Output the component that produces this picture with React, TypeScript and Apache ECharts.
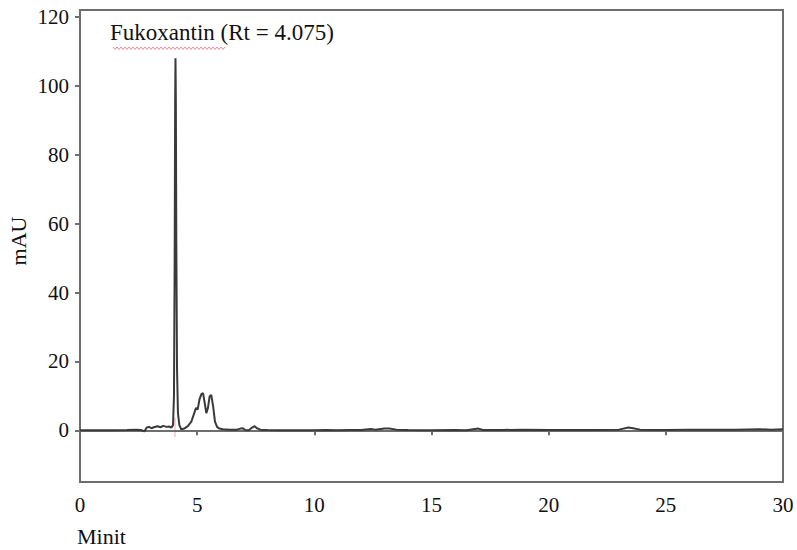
import React, { useEffect, useRef } from "react";
import * as echarts from "echarts";

const timeMin: number[] = [
  0, 0.5, 1.0, 1.5, 2.0, 2.4, 2.6, 2.75, 2.85, 2.95, 3.05, 3.15, 3.3, 3.45, 3.55, 3.7, 3.8, 3.9, 3.97,
  4.01, 4.04, 4.06, 4.075, 4.09, 4.11, 4.14, 4.18, 4.24, 4.32, 4.45, 4.6, 4.75, 4.85, 4.95, 5.02, 5.1,
  5.18, 5.25, 5.32, 5.39, 5.46, 5.53, 5.6, 5.68, 5.76, 5.85, 5.95, 6.1, 6.4, 6.7, 6.85, 6.95, 7.05, 7.2,
  7.35, 7.45, 7.55, 7.7, 8.0, 8.5, 9, 9.5, 10, 10.5, 11, 11.5, 12, 12.4, 12.6, 13, 13.2, 13.5, 14, 15,
  16, 16.5, 17, 17.2, 18, 19, 20, 21, 22, 23, 23.4, 23.6, 23.9, 25, 26, 27, 28, 29, 29.5, 30,
];
const mAU: number[] = [
  0, 0, 0.05, 0, 0.1, 0.2, 0.1, -0.3, 0.8, 1.0, 0.6, 0.9, 1.2, 0.9, 1.3, 1.0, 1.1, 0.8, 1.5,
  10, 50, 95, 108, 96, 55, 18, 5, 1.5, 0.3, 0.5, 1.2, 2.5, 4.5, 6.5, 6, 9,
  10.5, 10.8, 8, 5, 6.5, 9.8, 10.3, 7, 2.5, 1, 0.5, 0.3, 0.2, 0.2, 0.5, 0.6, 0.1, 0,
  0.8, 1.2, 0.6, 0.2, 0.1, 0, 0, 0, 0, 0.1, 0, 0.1, 0.1, 0.4, 0.2, 0.5, 0.5, 0.2, 0.1, 0,
  0.1, 0, 0.5, 0.1, 0.1, 0.2, 0.1, 0.1, 0.1, 0.2, 0.8, 0.6, 0.2, 0.1, 0.2, 0.2, 0.2, 0.3, 0.2, 0.3,
];
const yTickValues: number[] = [0, 20, 40, 60, 80, 100, 120];
const peakLabel = "Fukoxantin (Rt = 4.075)";
const xName = "Minit";
const yName = "mAU";

const FONT = "Liberation Serif";

export default function App() {
  const ref = useRef<HTMLDivElement>(null);
  useEffect(() => {
    if (!ref.current) return;
    const chart = echarts.init(ref.current, null, { renderer: "svg" });
    const wave: number[][] = [];
    for (let x = 113, i = 0; x <= 225; x += 2, i++) {
      wave.push([x, i % 2 === 0 ? 47 : 49.5]);
    }
    chart.setOption({
      animation: false,
      backgroundColor: "#ffffff",
      grid: {
        left: 80,
        right: 14,
        top: 10,
        bottom: 68,
        show: true,
        borderColor: "#6e6e6e",
        borderWidth: 2,
      },
      xAxis: {
        type: "value",
        min: 0,
        max: 30,
        interval: 5,
        splitLine: { show: false },
        axisLine: { lineStyle: { color: "#6e6e6e", width: 2 } },
        axisTick: { length: 5, lineStyle: { color: "#6e6e6e", width: 2 } },
        axisLabel: { color: "#111", fontFamily: FONT, fontSize: 21, margin: 12 },
      },
      yAxis: {
        type: "value",
        min: -15,
        max: 122,
        splitLine: { show: false },
        axisLine: { show: true, lineStyle: { color: "#6e6e6e", width: 2 } },
        axisTick: { show: true, length: 5, customValues: yTickValues, lineStyle: { color: "#6e6e6e", width: 2 } },
        axisLabel: { color: "#111", fontFamily: FONT, fontSize: 21, margin: 11, customValues: yTickValues },
      },
      series: [
        {
          type: "line",
          data: timeMin.map((t, i) => [t, mAU[i]]),
          showSymbol: false,
          lineStyle: { color: "#3a3a3a", width: 2 },
        },
      ],
      graphic: [
        {
          type: "text",
          left: 110,
          top: 21,
          style: { text: peakLabel, fill: "#111", fontFamily: FONT, fontSize: 23 },
        },
        {
          type: "polyline",
          shape: { points: wave },
          style: { stroke: "#e98a9a", lineWidth: 1, fill: null },
        },
        {
          type: "line",
          shape: { x1: 175, y1: 418, x2: 175, y2: 437 },
          style: { stroke: "#f2a6b6", lineWidth: 1 },
        },
        {
          type: "text",
          x: 18,
          y: 241,
          rotation: Math.PI / 2,
          style: { text: yName, fill: "#111", fontFamily: FONT, fontSize: 22, align: "center", verticalAlign: "middle" },
        },
        {
          type: "text",
          left: 77,
          top: 525,
          style: { text: xName, fill: "#111", fontFamily: FONT, fontSize: 22 },
        },
      ],
    });
    return () => chart.dispose();
  }, []);
  return (
    <div
      ref={ref}
      style={{ position: "fixed", left: 0, top: 0, width: 797, height: 550, background: "#fff" }}
    />
  );
}
